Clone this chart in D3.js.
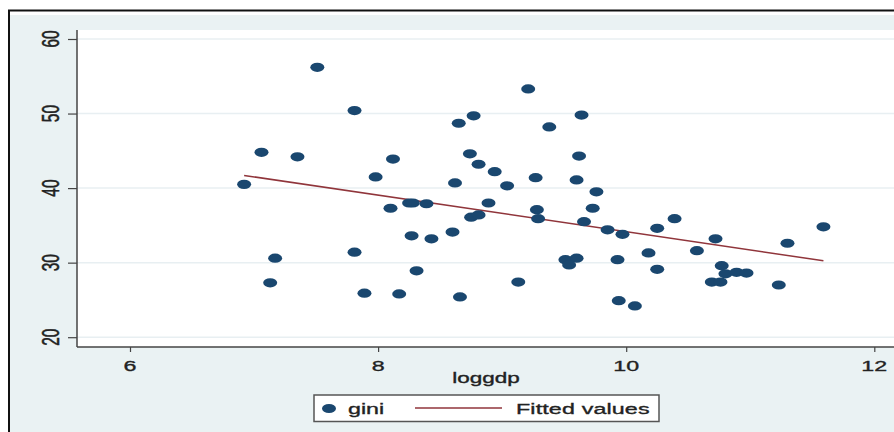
<!DOCTYPE html>
<html><head><meta charset="utf-8">
<script src="https://cdn.jsdelivr.net/npm/d3@7"></script>
<style>html,body{margin:0;padding:0;background:#fff;}svg{display:block;}</style>
</head><body>
<svg id="chart" width="894" height="432"></svg>
<script>
const loggdp = [6.92,7.06,7.35,7.51,7.81,8.12,7.98,7.17,7.13,7.81,7.89,8.17,8.10,8.25,8.28,8.39,8.27,8.43,8.31,8.60,8.66,9.13,8.89,8.75,8.81,9.28,9.29,9.73,9.66,9.51,9.60,9.54,9.21,8.77,8.65,9.64,9.38,8.74,8.81,8.94,9.62,8.62,9.04,9.27,9.60,9.76,9.85,9.97,9.93,9.94,10.07,10.25,10.39,10.18,10.25,10.57,10.72,10.77,10.80,10.89,10.97,10.69,10.76,11.23,11.30,11.59];
const gini = [40.5,44.8,44.2,56.2,50.4,43.9,41.5,30.6,27.3,31.4,25.9,25.8,37.3,38.0,38.0,37.9,33.6,33.2,28.9,34.1,25.4,27.4,38.0,36.1,36.4,37.1,35.9,37.3,35.5,30.4,30.6,29.7,53.3,49.7,48.7,49.8,48.2,44.6,43.2,42.2,44.3,40.7,40.3,41.4,41.1,39.5,34.4,33.8,30.4,24.9,24.2,34.6,35.9,31.3,29.1,31.6,33.2,29.6,28.5,28.7,28.6,27.4,27.4,27.0,32.6,34.8];
const fitX = [6.92, 11.59];
const fitY = [41.7, 30.25];
const xTicks = [6, 8, 10, 12];
const yTicks = [20, 30, 40, 50, 60];
const xLabel = "loggdp";
const legendLabels = ["gini", "Fitted values"];

const svg = d3.select("#chart");
const SX = 1.5; // horizontal stretch of the reference image
const font = "'Liberation Sans', Arial, sans-serif";
const txt = "#222";

// outer background
svg.append("rect").attr("x",0).attr("y",0).attr("width",894).attr("height",432).attr("fill","#fff");
svg.append("rect").attr("x",10).attr("y",15).attr("width",884).attr("height",417).attr("fill","#eaf2f3");
svg.append("line").attr("x1",8).attr("x2",894).attr("y1",10.5).attr("y2",10.5).attr("stroke","#111").attr("stroke-width",2);
svg.append("line").attr("x1",9).attr("x2",9).attr("y1",10).attr("y2",432).attr("stroke","#111").attr("stroke-width",2);

const plotL = 77, plotT = 30, plotB = 347, plotR = 894;
const x = d3.scaleLinear().domain([6,12]).range([130, 874.3]);
const y = d3.scaleLinear().domain([20,60]).range([337.2, 39]);

svg.append("rect").attr("x",plotL).attr("y",plotT).attr("width",plotR-plotL).attr("height",plotB-plotT).attr("fill","#fff");

// grid
svg.append("g").selectAll("line").data(yTicks).join("line")
  .attr("x1",plotL).attr("x2",plotR).attr("y1",d=>y(d)).attr("y2",d=>y(d))
  .attr("stroke","#e8eff2").attr("stroke-width",1.5);

// y axis
const yAxis = svg.append("g").attr("transform",`translate(${plotL},0)`)
  .call(d3.axisLeft(y).tickValues(yTicks).tickSize(9).tickFormat(""));
yAxis.select(".domain").remove();
yAxis.selectAll("line").attr("stroke","#444").attr("stroke-width",1.2);
svg.append("line").attr("x1",plotL).attr("x2",plotL).attr("y1",plotT).attr("y2",plotB).attr("stroke","#444").attr("stroke-width",1.5);
svg.append("g").selectAll("text").data(yTicks).join("text")
  .attr("transform",d=>`translate(59,${y(d)}) scale(${SX},1) rotate(-90)`)
  .attr("text-anchor","middle").attr("font-family",font).attr("font-size",15.5)
  .attr("fill",txt).attr("stroke",txt).attr("stroke-width",0.35)
  .text(d=>d);

// x axis
const xAxis = svg.append("g").attr("transform",`translate(0,${plotB})`)
  .call(d3.axisBottom(x).tickValues(xTicks).tickSize(5).tickFormat(""));
xAxis.select(".domain").remove();
xAxis.selectAll("line").attr("stroke","#444").attr("stroke-width",1.2);
svg.append("line").attr("x1",plotL).attr("x2",plotR).attr("y1",plotB).attr("y2",plotB).attr("stroke","#444").attr("stroke-width",1.5);
svg.append("g").selectAll("text").data(xTicks).join("text")
  .attr("transform",d=>`translate(${x(d)},370.5) scale(${SX},1)`)
  .attr("text-anchor","middle").attr("font-family",font).attr("font-size",15.5)
  .attr("fill",txt).attr("stroke",txt).attr("stroke-width",0.35)
  .text(d=>d);
svg.append("text").attr("transform",`translate(486,383) scale(${SX},1)`)
  .attr("text-anchor","middle").attr("font-family",font).attr("font-size",15)
  .attr("fill",txt).attr("stroke",txt).attr("stroke-width",0.35).text(xLabel);

// fitted line
const fitData = fitX.map((v,i)=>[v, fitY[i]]);
svg.append("path").datum(fitData)
  .attr("d", d3.line().x(d=>x(d[0])).y(d=>y(d[1])))
  .attr("fill","none").attr("stroke","#90353b").attr("stroke-width",1.5);

// points
svg.append("g").selectAll("ellipse").data(loggdp.map((v,i)=>[v,gini[i]])).join("ellipse")
  .attr("cx",d=>x(d[0])).attr("cy",d=>y(d[1])).attr("rx",7).attr("ry",4.6)
  .attr("fill","#1a476f");

// legend
const lg = svg.append("g");
lg.append("rect").attr("x",314).attr("y",395).attr("width",345).attr("height",26.5)
  .attr("fill","#fff").attr("stroke","#555").attr("stroke-width",1.5);
lg.append("ellipse").attr("cx",329).attr("cy",408.5).attr("rx",7).attr("ry",4.6).attr("fill","#1a476f");
lg.append("text").attr("transform",`translate(348,413.5) scale(${SX},1)`)
  .attr("font-family",font).attr("font-size",15.5)
  .attr("fill",txt).attr("stroke",txt).attr("stroke-width",0.35).text(legendLabels[0]);
lg.append("line").attr("x1",415).attr("x2",502).attr("y1",408).attr("y2",408).attr("stroke","#90353b").attr("stroke-width",1.5);
lg.append("text").attr("transform",`translate(516,413.5) scale(${SX},1)`)
  .attr("font-family",font).attr("font-size",15.5).attr("letter-spacing",0.1)
  .attr("fill",txt).attr("stroke",txt).attr("stroke-width",0.35).text(legendLabels[1]);
</script>
</body></html>
